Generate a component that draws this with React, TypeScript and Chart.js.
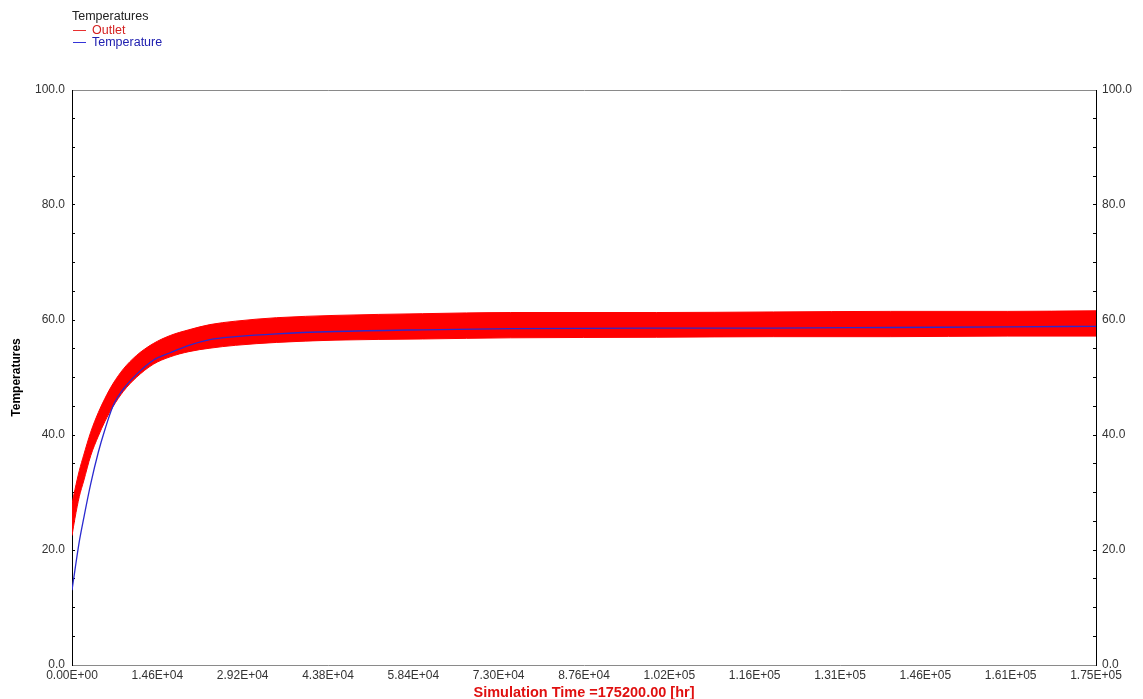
import React, { useEffect, useRef } from "react";
import { Chart, registerables } from "chart.js";

Chart.register(...registerables);

// Simulation time [hr]
const TIMES = [0, 500, 1250, 2000, 3200, 4500, 5650, 7000, 8800, 11000, 13900, 16800, 20000, 23600, 28000, 35000, 45000, 60000, 75000, 100000, 120000, 140000, 160000, 175200];
// Outlet oscillation envelope (upper / lower)
const OUTLET_UPPER = [28.0, 30.5, 33.8, 36.5, 40.5, 43.9, 46.4, 48.9, 51.5, 53.8, 55.9, 57.3, 58.3, 59.2, 59.8, 60.4, 60.8, 61.1, 61.3, 61.3, 61.4, 61.5, 61.5, 61.6];
const OUTLET_LOWER = [22.5, 25.5, 29.3, 32.0, 36.4, 39.8, 42.4, 44.9, 47.6, 50.0, 52.3, 53.6, 54.5, 55.1, 55.6, 56.1, 56.5, 56.7, 56.9, 57.0, 57.1, 57.1, 57.2, 57.2];
// Temperature
const TEMPERATURE = [13.0, 16.5, 21.5, 25.5, 31.5, 37.0, 41.0, 45.0, 48.0, 50.5, 53.0, 54.3, 55.6, 56.6, 57.1, 57.6, 58.0, 58.3, 58.5, 58.6, 58.6, 58.7, 58.8, 58.9];

const X_TICKS = [0, 14600, 29200, 43800, 58400, 73000, 87600, 102200, 116800, 131400, 146000, 160600, 175200];
const X_TICK_LABELS = ["0.00E+00", "1.46E+04", "2.92E+04", "4.38E+04", "5.84E+04", "7.30E+04", "8.76E+04", "1.02E+05", "1.16E+05", "1.31E+05", "1.46E+05", "1.61E+05", "1.75E+05"];
const Y_TICKS = [0, 5, 10, 15, 20, 25, 30, 35, 40, 45, 50, 55, 60, 65, 70, 75, 80, 85, 90, 95, 100];
const Y_LABEL_STEP = 20;

const FONT = "'Liberation Sans', Arial, sans-serif";

export default function App() {
  const ref = useRef<HTMLCanvasElement | null>(null);

  useEffect(() => {
    document.body.style.margin = "0";
    const canvas = ref.current;
    if (!canvas) return;

    const pts = (ys: number[]) => TIMES.map((t, i) => ({ x: t, y: ys[i] }));

    const yTickCb = (v: any) => (Number(v) % Y_LABEL_STEP === 0 ? Number(v).toFixed(1) : "");
    const setYTicks = (s: any) => {
      s.ticks = Y_TICKS.map((v) => ({ value: v }));
    };

    const chart = new Chart(canvas, {
      type: "line",
      data: {
        datasets: [
          {
            label: "Temperature",
            data: pts(TEMPERATURE),
            borderColor: "#2a2ad0",
            backgroundColor: "#2a2ad0",
            borderWidth: 1.3,
            pointRadius: 0,
            cubicInterpolationMode: "monotone",
            fill: false,
          },
          {
            label: "Outlet",
            data: pts(OUTLET_UPPER),
            borderColor: "#ff0000",
            backgroundColor: "#ff0000",
            borderWidth: 1,
            pointRadius: 0,
            cubicInterpolationMode: "monotone",
            fill: "+1",
          },
          {
            label: "Outlet (lower)",
            data: pts(OUTLET_LOWER),
            borderColor: "#ff0000",
            backgroundColor: "#ff0000",
            borderWidth: 1,
            pointRadius: 0,
            cubicInterpolationMode: "monotone",
            fill: false,
          },
        ],
      },
      options: {
        animation: false,
        responsive: true,
        maintainAspectRatio: false,
        layout: { padding: { top: 90, left: 0, right: 0, bottom: 0 } },
        plugins: {
          legend: { display: false },
          tooltip: { enabled: false },
        },
        scales: {
          x: {
            type: "linear",
            position: "bottom",
            min: 0,
            max: 175200,
            afterBuildTicks: (s: any) => {
              s.ticks = X_TICKS.map((v) => ({ value: v }));
            },
            afterFit: (s: any) => {
              s.height = 34;
            },
            ticks: {
              autoSkip: false,
              maxRotation: 0,
              padding: 3,
              color: "#333",
              font: { family: FONT, size: 12 },
              callback: (_v: any, i: number) => X_TICK_LABELS[i],
            },
            grid: { drawOnChartArea: false, drawTicks: false },
            border: { color: "#8a8a8a", width: 1, dash: [10, 4] },
            title: {
              display: true,
              text: "Simulation Time =175200.00 [hr]",
              color: "#e01010",
              font: { family: FONT, size: 14.5, weight: "bold" },
              padding: { top: -3, bottom: -3 },
            },
          },
          xTop: {
            type: "linear",
            position: "top",
            min: 0,
            max: 1,
            afterFit: (s: any) => {
              s.height = 0;
            },
            ticks: { display: false },
            grid: { display: false, drawTicks: false },
            border: { color: "#8a8a8a", width: 1 },
          },
          y: {
            type: "linear",
            position: "left",
            min: 0,
            max: 100,
            afterBuildTicks: setYTicks,
            afterFit: (s: any) => {
              s.width = 72;
            },
            ticks: {
              autoSkip: false,
              padding: 10,
              color: "#333",
              font: { family: FONT, size: 12 },
              callback: yTickCb,
            },
            grid: { drawOnChartArea: false, drawTicks: true, tickLength: -3, color: "#000" },
            border: { color: "#000", width: 1 },
            title: {
              display: true,
              text: "Temperatures",
              color: "#000",
              font: { family: FONT, size: 12, weight: "bold" },
              padding: { top: 9, bottom: 0 },
            },
          },
          y2: {
            type: "linear",
            position: "right",
            min: 0,
            max: 100,
            afterBuildTicks: setYTicks,
            afterFit: (s: any) => {
              s.width = 47;
            },
            ticks: {
              autoSkip: false,
              padding: 9,
              color: "#333",
              font: { family: FONT, size: 12 },
              callback: yTickCb,
            },
            grid: { drawOnChartArea: false, drawTicks: true, tickLength: -3, color: "#000" },
            border: { color: "#000", width: 1 },
          },
        },
      } as any,
    });

    return () => chart.destroy();
  }, []);

  const row = (top: number, color: string): React.CSSProperties => ({
    position: "absolute",
    left: 0,
    top,
    height: 14,
    lineHeight: "14px",
    whiteSpace: "nowrap",
    color,
  });
  const swatch = (c: string): React.CSSProperties => ({
    display: "inline-block",
    width: 13,
    height: 1,
    background: c,
    verticalAlign: "middle",
    marginRight: 6,
    marginLeft: 1,
  });

  return (
    <div style={{ position: "fixed", left: 0, top: 0, width: 1143, height: 699, background: "#fff" }}>
      <canvas ref={ref} />
      <div
        style={{
          position: "absolute",
          left: 72,
          top: 0,
          width: 200,
          height: 50,
          fontFamily: FONT,
          fontSize: 12.5,
        }}
      >
        <div style={row(8.5, "#222")}>Temperatures</div>
        <div style={row(22.5, "#d42020")}>
          <span style={swatch("#e83030")} />Outlet
        </div>
        <div style={row(34.5, "#2020b0")}>
          <span style={swatch("#3434d8")} />Temperature
        </div>
      </div>
    </div>
  );
}
